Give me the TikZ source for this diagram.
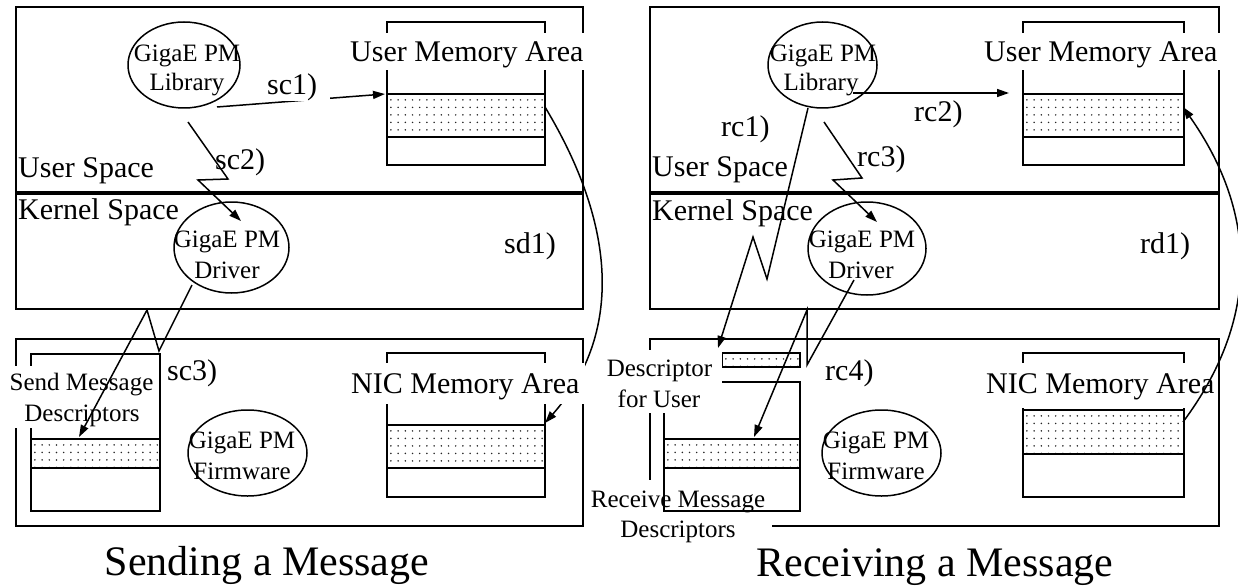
\documentclass[tikz,border=0pt]{standalone}
\usepackage{fontspec}
\setmainfont{Liberation Serif}
\usetikzlibrary{arrows.meta,shapes.geometric}

\begin{document}
\begin{tikzpicture}[x=1pt,y=-1pt,
  frame/.style={draw,line width=2pt,rectangle,inner sep=0,anchor=north west},
  divider/.style={line width=3.5pt},
  membox/.style={draw,line width=1.8pt,rectangle,inner sep=0,anchor=north west},
  dotband/.style={membox,path picture={
      \foreach \i in {0,...,23}{\foreach \j in {0,...,5}{
        \fill[black!85] ([xshift=4pt+7.2pt*\i,yshift=-6pt-7.5pt*\j]path picture bounding box.north west) circle[radius=0.85pt];}}}},
  blob/.style={draw,ellipse,line width=1.5pt,inner sep=0},
  flow/.style={line width=1.5pt,-{Triangle[length=12pt,width=8pt]}},
  biglabel/.style={font=\fontsize{30}{36}\selectfont,inner sep=0,anchor=base west},
  steplabel/.style={font=\fontsize{30}{36}\selectfont,inner sep=0,anchor=base west},
  smalllabel/.style={font=\fontsize{25}{30}\selectfont,inner sep=0,anchor=base},
  captext/.style={font=\fontsize{42}{50}\selectfont,inner sep=0,anchor=base},
  mask/.style={fill=white}
]
\useasboundingbox (0,0) rectangle (1238,588);
\fill[white] (0,0) rectangle (1238,588);

% ---------------- frames: user/kernel space and NIC ----------------
\node[frame,minimum width=567,minimum height=302] (lhost) at (15,6) {};
\node[frame,minimum width=567,minimum height=187] (lnic)  at (15,338) {};
\node[frame,minimum width=569,minimum height=302] (rhost) at (649,6) {};
\node[frame,minimum width=569,minimum height=187] (rnic)  at (649,338) {};
\draw[divider] (15,193) -- (582,193);
\draw[divider] (649,193) -- (1218,193);

% sd1) transfer, passing behind the NIC label
\coordinate (sda) at (545,107);
\coordinate (sdb) at (545,423);
\draw[flow] (sda) .. controls (622,235) and (618,340) .. (sdb);

% ---------------- memory areas ----------------
\node[membox,minimum width=158,minimum height=143] (lum) at (386,21) {};
\node[dotband,minimum width=158,minimum height=43] (lumb) at (386,93) {};
\node[membox,minimum width=161,minimum height=143] (rum) at (1022,21) {};
\node[dotband,minimum width=161,minimum height=43] (rumb) at (1022,93) {};
\node[membox,minimum width=158,minimum height=144] (lnm) at (386,352) {};
\node[dotband,minimum width=158,minimum height=43] (lnmb) at (386,424) {};
\node[membox,minimum width=161,minimum height=144] (rnm) at (1022,352) {};
\node[dotband,minimum width=161,minimum height=44] (rnmb) at (1022,409) {};
\node[membox,minimum width=129,minimum height=157] (send) at (30,353) {};
\node[dotband,minimum width=129,minimum height=29] (sendb) at (30,438) {};

% receive descriptors: label first, ring drawn over it
\fill[mask] (588,480) rectangle (772,548);
\node[smalllabel] (recvt1) at (678,507) {Receive Message};
\node[smalllabel] (recvt2) at (678,537) {Descriptors};
\node[membox,minimum width=136,minimum height=129] (recv) at (663,381) {};
\node[dotband,minimum width=136,minimum height=29] (recvb) at (663,438) {};
\node[dotband,minimum width=78,minimum height=14] (userd) at (721,352) {};

% ---------------- labels with white backing ----------------
\fill[mask] (347,33) rectangle (587,70);
\node[biglabel] (lumt) at (350,62) {User Memory Area};
\fill[mask] (981,33) rectangle (1222,70);
\node[biglabel] (rumt) at (984,62) {User Memory Area};
\fill[mask] (347,363) rectangle (585,404);
\node[biglabel] (lnmt) at (351,393) {NIC Memory Area};
\fill[mask] (983,363) rectangle (1216,408);
\node[biglabel] (rnmt) at (986,393) {NIC Memory Area};
\fill[mask] (7,366) rectangle (156,428);
\node[smalllabel] (sendt1) at (81.5,390) {Send Message};
\node[smalllabel] (sendt2) at (82,421) {Descriptors};
\fill[mask] (603,350) rectangle (722,413);
\node[smalllabel] (userdt1) at (659.5,376) {Descriptor};
\node[smalllabel] (userdt2) at (659,407) {for User};

% ---------------- space labels ----------------
\node[biglabel] (lus) at (18,178) {User Space};
\node[biglabel] (lks) at (18,219) {Kernel Space};
\node[biglabel] (rus) at (652,177) {User Space};
\node[biglabel] (rks) at (652,220) {Kernel Space};

% ---------------- software components ----------------
\node[blob,minimum width=112,minimum height=86] (llib) at (184,65) {};
\node[smalllabel] (llibt1) at (187,62) {GigaE PM};
\node[smalllabel] (llibt2) at (187,91) {Library};
\node[blob,minimum width=115,minimum height=91] (ldrv) at (231.5,247.5) {};
\node[smalllabel] (ldrvt1) at (227,247) {GigaE PM};
\node[smalllabel] (ldrvt2) at (227,278) {Driver};
\node[blob,minimum width=119,minimum height=86] (lfw) at (247.5,453) {};
\node[smalllabel] (lfwt1) at (242,448) {GigaE PM};
\node[smalllabel] (lfwt2) at (242,479) {Firmware};

\node[blob,minimum width=109,minimum height=86] (rlib) at (822.5,65) {};
\node[smalllabel] (rlibt1) at (823,62) {GigaE PM};
\node[smalllabel] (rlibt2) at (821,91) {Library};
\node[blob,minimum width=118,minimum height=93] (rdrv) at (867,248.5) {};
\node[smalllabel] (rdrvt1) at (862,247) {GigaE PM};
\node[smalllabel] (rdrvt2) at (861,278) {Driver};
\node[blob,minimum width=119,minimum height=86] (rfw) at (881.5,453) {};
\node[smalllabel] (rfwt1) at (876,448) {GigaE PM};
\node[smalllabel] (rfwt2) at (876,479) {Firmware};

% ---------------- step labels ----------------
\node[steplabel] (sc2l) at (215,169) {sc2)};
\node[steplabel] (sd1l) at (504,253) {sd1)};
\node[steplabel] (sc3l) at (167,380) {sc3)};
\node[steplabel] (rc1l) at (721,137) {rc1)};
\node[steplabel] (rc2l) at (914,122) {rc2)};
\node[steplabel] (rc3l) at (857,167) {rc3)};
\node[steplabel] (rd1l) at (1140,253) {rd1)};
\node[steplabel] (rc4l) at (825,380) {rc4)};

% ---------------- sending ----------------
\coordinate (sc1a) at (217,107);
\coordinate (sc1b) at (385,94);
\draw[flow] (sc1a) -- (sc1b);
\fill[mask] (262,72) rectangle (330,101.5);
\node[steplabel] (sc1l) at (267,95) {sc1)};

\coordinate (sc2a) at (188,122);
\coordinate (sc2b) at (228,179);
\coordinate (sc2c) at (198,180);
\coordinate (sc2d) at (241,221);
\draw[flow] (sc2a) -- (sc2b) -- (sc2c) -- (sc2d);

\coordinate (sc3a) at (192,285);
\coordinate (sc3b) at (159,351);
\coordinate (sc3c) at (147,310);
\coordinate (sc3d) at (79,437);
\draw[flow] (sc3a) -- (sc3b) -- (sc3c) -- (sc3d);

% ---------------- receiving ----------------
\coordinate (rc1a) at (808,108);
\coordinate (rc1b) at (767,279);
\coordinate (rc1c) at (753,237);
\coordinate (rc1d) at (718,348);
\draw[flow] (rc1a) -- (rc1b) -- (rc1c) -- (rc1d);

\coordinate (rc2a) at (853,93);
\coordinate (rc2b) at (1009,93);
\draw[flow] (rc2a) -- (rc2b);

\coordinate (rc3a) at (824,122);
\coordinate (rc3b) at (862,178);
\coordinate (rc3c) at (833,180);
\coordinate (rc3d) at (877,222);
\draw[flow] (rc3a) -- (rc3b) -- (rc3c) -- (rc3d);

\coordinate (rc4a) at (854,280);
\coordinate (rc4b) at (807,365);
\coordinate (rc4c) at (807,310);
\coordinate (rc4d) at (754,437);
\draw[flow] (rc4a) -- (rc4b) -- (rc4c) -- (rc4d);

\coordinate (rda) at (1183,422);
\coordinate (rdb) at (1183,107);
\draw[flow] (rda) .. controls (1259,320) and (1259,215) .. (rdb);

% ---------------- captions ----------------
\node[captext] (scap) at (267,575) {Sending a Message};
\node[captext] (rcap) at (935,576) {Receiving a Message};
\end{tikzpicture}
\end{document}
